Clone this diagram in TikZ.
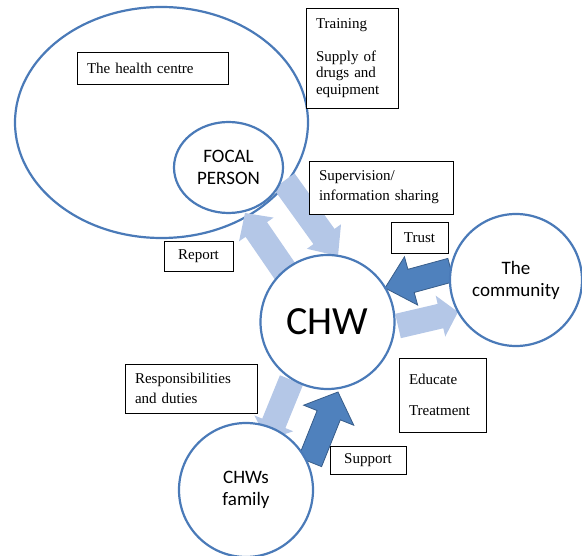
\documentclass[tikz,border=0pt]{standalone}
\usepackage{fontspec}
\setmainfont{Liberation Serif}
\newfontfamily\calib{Carlito}
\usetikzlibrary{calc,shapes.geometric}
\definecolor{cline}{HTML}{4A7AB8}
\definecolor{lightarrow}{HTML}{B4C7E7}
\definecolor{darkfill}{HTML}{4F81BD}
\definecolor{darkline}{HTML}{385D8A}
% #1 style, #2 tail, #3 tip, #4 shaft half width, #5 head half width, #6 head length
\newcommand{\blockarr}[6]{%
  \coordinate (hb) at ($(#3)!#6!(#2)$);
  \path[#1] ($(#2)!#4!90:(#3)$) -- ($(hb)!#4!90:(#3)$) -- ($(hb)!#5!90:(#3)$)
    -- (#3) -- ($(hb)!#5!-90:(#3)$) -- ($(hb)!#4!-90:(#3)$) -- ($(#2)!#4!-90:(#3)$) -- cycle;
}
\begin{document}
\begin{tikzpicture}[x=1pt,y=-1pt,
  box/.style={draw=black, line width=0.6pt, fill=white, inner xsep=10pt, inner ysep=0pt,
    align=left, font=\fontsize{15}{16.5}\selectfont},
  ring/.style={draw=cline, line width=2.2pt, fill=white, inner sep=0pt, align=center,
    font=\calib\fontsize{19}{22}\selectfont},
  lightarr/.style={fill=lightarrow},
  darkarr/.style={fill=darkfill, draw=darkline, line width=0.8pt, line join=miter}]
\useasboundingbox (0,0) rectangle (582,556);
% big ellipse (health centre)
\node[ring, ellipse, minimum width=293pt, minimum height=231pt] (hcE) at (161.5,122.5) {};
\node[box, minimum width=151pt, minimum height=32pt, text width=131pt] (hc) at (152.5,68) {The health centre};
% arrow end points
\coordinate (supT) at (284,181);
\coordinate (supH) at (338,256);
\coordinate (repT) at (291,280);
\coordinate (repH) at (245,213);
\coordinate (truT) at (451,270);
\coordinate (truH) at (385,288);
\coordinate (eduT) at (398,326);
\coordinate (eduH) at (458,312);
\coordinate (resT) at (291.5,380);
\coordinate (resH) at (267,440);
\coordinate (supoT) at (310,462);
\coordinate (supoH) at (338,392);
% block arrows
\blockarr{lightarr}{supT}{supH}{13pt}{21pt}{24pt}
\blockarr{lightarr}{repT}{repH}{13pt}{21pt}{20pt}
\blockarr{darkarr}{truT}{truH}{12pt}{25pt}{27pt}
\blockarr{lightarr}{eduT}{eduH}{12.5pt}{21pt}{18pt}
\blockarr{lightarr}{resT}{resH}{12.5pt}{21pt}{18pt}
\blockarr{darkarr}{supoT}{supoH}{12.5pt}{27pt}{25pt}
% circles
\node[ring, ellipse, minimum width=109pt, minimum height=91pt] (focal) at (228.5,167.5) {FOCAL\\PERSON};
\node[ring, circle, minimum size=134pt, font=\calib\fontsize{40}{40}\selectfont] (chw) at (327.5,322) {CHW};
\node[ring, circle, minimum size=132pt] (comm) at (516,280) {The\\community};
\node[ring, circle, minimum size=134pt] (fam) at (246,490) {CHWs\\family};
% text boxes
\node[box, minimum width=92pt, minimum height=100pt, text width=72pt] (train) at (352,58)
  {Training\\[16.5pt]Supply of\\drugs and\\equipment};
\node[box, minimum width=144pt, minimum height=53pt, text width=124pt, font=\fontsize{15}{20}\selectfont] (superv) at (381,187.5)
  {Supervision/\\information sharing};
\node[box, minimum width=57pt, minimum height=31pt, inner xsep=0pt, align=center] (trust) at (419.5,237.5) {Trust};
\node[box, minimum width=69pt, minimum height=30pt, inner xsep=0pt, align=center] (report) at (198.5,256) {Report};
\node[box, minimum width=132pt, minimum height=49pt, text width=112pt, font=\fontsize{15}{20.5}\selectfont] (resp) at (191,388.5)
  {Responsibilities\\and duties};
\node[box, minimum width=87pt, minimum height=74pt, text width=67pt] (educ) at (442.5,395)
  {Educate\\[15pt]Treatment};
\node[box, minimum width=76pt, minimum height=28pt, inner xsep=0pt, align=center] (supp) at (368,460) {Support};
\end{tikzpicture}
\end{document}
